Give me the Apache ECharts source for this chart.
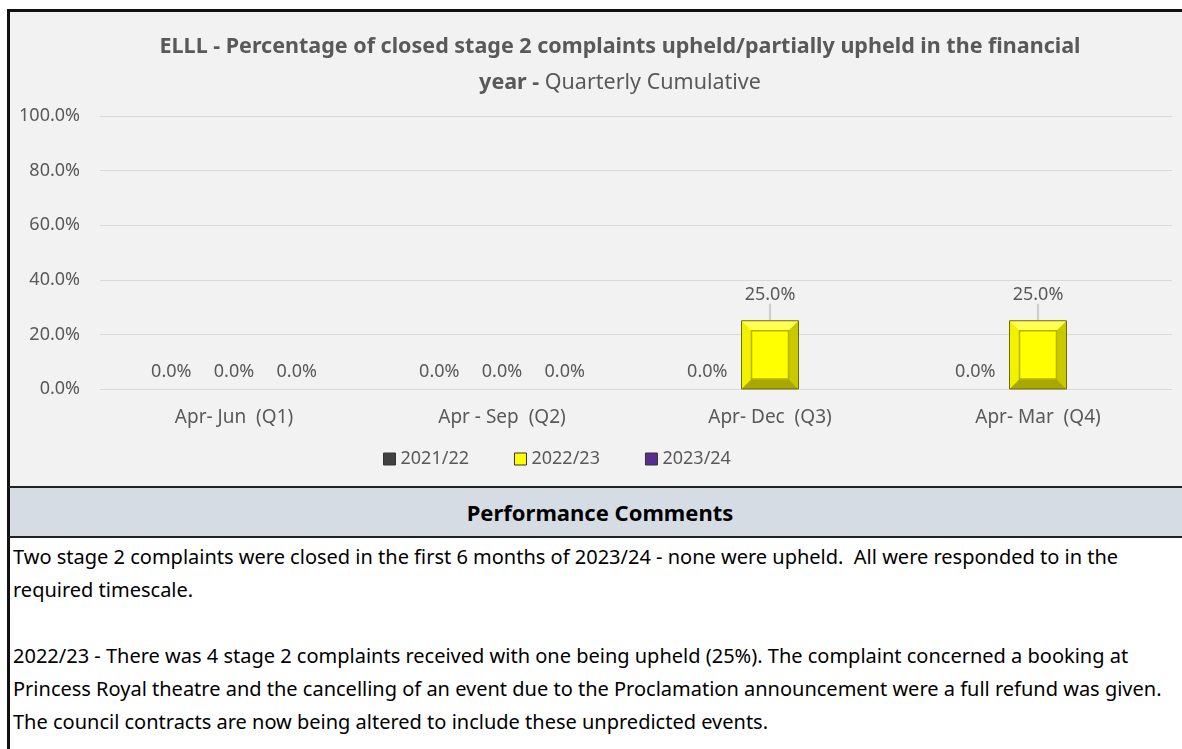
<!DOCTYPE html>
<html lang="en">
<head>
    <meta charset="UTF-8">
    <title>ELLL stage 2 complaints</title>
    <script src="https://cdn.jsdelivr.net/npm/echarts@6/dist/echarts.min.js" type="text/javascript"></script>
    <style>
        body { margin: 0; background: #fff; font-family: "Noto Sans", sans-serif; }
        #panel { position: absolute; left: 7px; top: 9px; width: 1180px; height: 477px;
                 background: #f2f2f2; border-top: 3px solid #111; border-left: 3px solid #111; }
        #main { position: absolute; left: 0; top: 0; width: 1182px; height: 488px; }
        #head { position: absolute; left: 7px; top: 486px; width: 1180px; height: 48px;
                background: #d6dce4; border-top: 2px solid #222; border-bottom: 2px solid #222;
                border-left: 3px solid #111; text-align: center; line-height: 48px;
                font-weight: bold; font-size: 22px; color: #000; }
        #comments { position: absolute; left: 7px; top: 538px; width: 1170px; height: 211px;
                    border-left: 3px solid #111; padding-left: 3px; padding-top: 2px;
                    font-size: 20px; line-height: 33px; color: #000; white-space: nowrap; }
    </style>
</head>
<body>
<div id="panel"></div>
<div id="main"></div>
<div id="head">Performance Comments</div>
<div id="comments">
    Two stage 2 complaints were closed in the first 6 months of 2023/24 - none were upheld.&nbsp; All were responded to in the<br>
    required timescale.<br>
    <br>
    2022/23 - There was 4 stage 2 complaints received with one being upheld (25%). The complaint concerned a booking at<br>
    Princess Royal theatre and the cancelling of an event due to the Proclamation announcement were a full refund was given.<br>
    The council contracts are now being altered to include these unpredicted events.
</div>
<script>
    // data (percent)
    var categories = ['Apr- Jun  (Q1)', 'Apr - Sep  (Q2)', 'Apr- Dec  (Q3)', 'Apr- Mar  (Q4)'];
    var years = ['2021/22', '2022/23', '2023/24'];
    var v2122 = [0, 0, 0, 0];
    var v2223 = [0, 0, 25, 25];
    var v2324 = [0, 0, null, null];
    var yTicks = [0, 20, 40, 60, 80, 100];

    var grey = '#595959';
    var myChart = echarts.init(document.getElementById('main'));

    function pct(p) {
        return p.value == null ? '' : Number(p.value).toFixed(1) + '%';
    }

    var baseLabel = {
        show: true, position: 'top', distance: 8,
        formatter: pct, color: grey, fontSize: 18, fontFamily: 'Noto Sans'
    };

    // bevelled look for the yellow bars, drawn over the plain bar
    function bevel(params, api) {
        var v = api.value(1);
        if (!v) return;
        var top = api.coord([api.value(0), v]);
        var base = api.coord([api.value(0), 0]);
        var w = 57, b = 10;
        var x0 = top[0] - w / 2, x1 = top[0] + w / 2, y0 = top[1], y1 = base[1];
        function poly(pts, c) {
            return { type: 'polygon', shape: { points: pts }, style: { fill: c } };
        }
        return {
            type: 'group',
            children: [
                poly([[x0, y0], [x1, y0], [x1 - b, y0 + b], [x0 + b, y0 + b]], '#ffff55'),
                poly([[x0, y0], [x0 + b, y0 + b], [x0 + b, y1 - b], [x0, y1]], '#f2f200'),
                poly([[x1, y0], [x1, y1], [x1 - b, y1 - b], [x1 - b, y0 + b]], '#c9c900'),
                poly([[x0, y1], [x0 + b, y1 - b], [x1 - b, y1 - b], [x1, y1]], '#a8a800'),
                { type: 'rect', shape: { x: x0 + b, y: y0 + b, width: w - 2 * b, height: y1 - y0 - 2 * b },
                  style: { fill: '#ffff00', stroke: '#b5b500', lineWidth: 1.5 } },
                { type: 'rect', shape: { x: x0, y: y0, width: w, height: y1 - y0 },
                  style: { fill: null, stroke: '#6b6b10', lineWidth: 1 } }
            ]
        };
    }

    var option = {
        animation: false,
        backgroundColor: 'transparent',
        textStyle: { fontFamily: 'Noto Sans' },
        graphic: [{
            type: 'text', x: 620, y: 29,
            style: {
                text: '{b|ELLL - Percentage of closed stage 2 complaints upheld/partially upheld in the financial}\n{b|year -}{n| Quarterly Cumulative}',
                align: 'center',
                rich: {
                    b: { fontSize: 21.5, fontWeight: 'bold', fill: grey, lineHeight: 36, fontFamily: 'Noto Sans' },
                    n: { fontSize: 21.5, fill: grey, lineHeight: 36, fontFamily: 'Noto Sans' }
                }
            }
        }],
        legend: {
            data: years,
            top: 450, left: 383, padding: 0,
            itemWidth: 12, itemHeight: 12, itemGap: 45,
            icon: 'rect',
            itemStyle: { borderColor: '#333', borderWidth: 1 },
            textStyle: { color: grey, fontSize: 18, padding: [0, 0, 0, 0] }
        },
        grid: { left: 100, right: 10, top: 116, bottom: 99 },
        xAxis: {
            type: 'category',
            data: categories,
            axisLine: { show: false },
            axisTick: { show: false },
            axisLabel: { color: grey, fontSize: 19, margin: 19 }
        },
        yAxis: {
            type: 'value',
            min: yTicks[0], max: yTicks[yTicks.length - 1], interval: 20,
            axisLabel: { color: grey, fontSize: 18, margin: 20,
                         formatter: function (v) { return v.toFixed(1) + '%'; } },
            splitLine: { lineStyle: { color: '#d9d9d9', width: 1 } }
        },
        series: [
            { name: years[0], type: 'bar', data: v2122, barWidth: 57, barGap: '10%',
              itemStyle: { color: '#404040' }, label: baseLabel },
            { name: years[1], type: 'bar', barWidth: 57, barGap: '10%',
              data: v2223.map(function (v) { return { value: v, labelLine: { show: v > 0 } }; }),
              itemStyle: { color: '#ffff00' }, label: baseLabel,
              labelLayout: function (p) { return p.rect.height > 1 ? { dy: -9 } : null; },
              labelLine: { show: true, lineStyle: { color: '#a6a6a6', width: 1 } } },
            { name: years[2], type: 'bar', data: v2324, barWidth: 57, barGap: '10%',
              itemStyle: { color: '#5b2c8f' }, label: baseLabel },
            { name: 'bevel', type: 'custom', silent: true, z: 5,
              data: v2223.map(function (v, i) { return [i, v]; }),
              renderItem: bevel }
        ]
    };
    myChart.setOption(option);
</script>
</body>
</html>
